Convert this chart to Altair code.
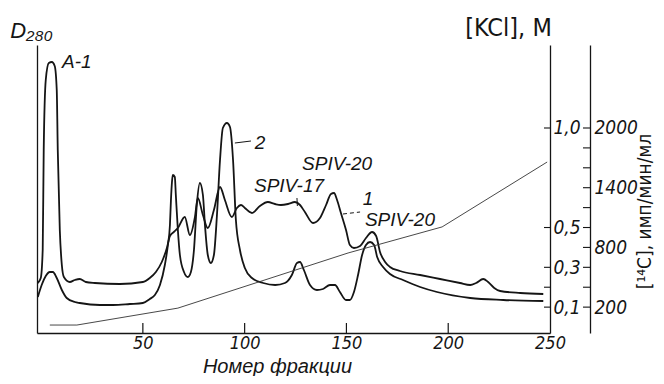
import altair as alt
import pandas as pd

# ---- data (fraction number, D280 in arbitrary units) ----
c1_frac = [-1.6, -0.15, 0.8, 1.3, 2.3, 3.8, 5.3, 6.7, 7.7, 8.2, 9.2, 10.2, 11.2, 14.1, 16.6, 19.0,
           22.0, 26.4, 38.7, 50.0, 53.4, 56.4, 59.3, 61.8, 63.3, 65.2, 67.2, 70.6, 73.1, 75.5, 77.0,
           79.5, 81.9, 84.9, 87.9, 90.3, 93.7, 96.2, 98.2, 100.1, 103.6, 107.5, 111.4, 114.9, 117.8,
           121.3, 124.7, 127.2, 129.6, 133.6, 137.0, 140.0, 142.4, 143.9, 145.4, 147.3, 149.8, 151.7,
           153.7, 156.7, 159.6, 162.6, 164.6, 166.5, 169.0, 171.4, 176.3, 186.2, 196.0, 205.8, 210.8,
           213.7, 217.2, 219.6, 222.6, 225.5, 235.4, 246.7]
c1_D = [0.25, 0.275, 0.415, 0.915, 1.265, 1.35, 1.355, 1.335, 1.215, 0.915, 0.515, 0.34, 0.28, 0.255,
        0.265, 0.27, 0.255, 0.25, 0.245, 0.255, 0.275, 0.305, 0.355, 0.425, 0.485, 0.505, 0.525, 0.58,
        0.49, 0.575, 0.675, 0.59, 0.525, 0.615, 0.73, 0.665, 0.58, 0.625, 0.64, 0.625, 0.6, 0.635,
        0.655, 0.645, 0.64, 0.645, 0.655, 0.64, 0.605, 0.55, 0.575, 0.64, 0.695, 0.7, 0.665, 0.6,
        0.515, 0.44, 0.425, 0.435, 0.475, 0.505, 0.485, 0.405, 0.355, 0.33, 0.31, 0.29, 0.27, 0.25,
        0.24, 0.25, 0.27, 0.255, 0.225, 0.21, 0.2, 0.195]

c2_frac = [-1.6, 0.3, 2.3, 4.3, 5.8, 7.7, 10.2, 12.6, 16.6, 19.0, 28.9, 35.3, 43.6, 50.0, 53.4, 55.9,
           58.4, 60.8, 62.3, 63.3, 63.8, 64.3, 64.7, 65.7, 66.2, 67.2, 68.2, 70.2, 72.1, 73.6, 75.1,
           76.5, 78.0, 79.5, 80.5, 81.9, 83.4, 84.9, 86.4, 87.9, 89.3, 91.3, 92.8, 94.3, 95.7, 97.7,
           100.1, 103.6, 109.1, 115.0, 119.8, 123.2, 125.7, 127.2, 129.1, 132.1, 135.5, 138.5, 141.9,
           144.4, 146.8, 149.8, 151.7, 153.7, 155.7, 157.7, 159.6, 161.6, 163.6, 165.1, 168.0, 171.4,
           177.8, 186.2, 194.5, 210.8, 227.1, 246.7]
c2_D = [0.18, 0.24, 0.285, 0.305, 0.305, 0.275, 0.215, 0.175, 0.155, 0.15, 0.14, 0.14, 0.145, 0.15,
        0.17, 0.19, 0.24, 0.34, 0.44, 0.54, 0.665, 0.755, 0.79, 0.78, 0.69, 0.515, 0.39, 0.305, 0.28,
        0.305, 0.415, 0.64, 0.75, 0.69, 0.54, 0.39, 0.35, 0.39, 0.59, 0.865, 1.025, 1.05, 1.03, 0.865,
        0.565, 0.415, 0.325, 0.275, 0.25, 0.24, 0.25, 0.29, 0.35, 0.355, 0.315, 0.24, 0.215, 0.22,
        0.24, 0.24, 0.205, 0.165, 0.165, 0.205, 0.29, 0.39, 0.44, 0.455, 0.44, 0.38, 0.33, 0.295,
        0.265, 0.23, 0.205, 0.175, 0.165, 0.16]

# KCl gradient (M)
kcl_frac = [4.3, 17.6, 67.2, 150.8, 197.0, 248.6]
kcl_val = [0.01, 0.01, 0.095, 0.372, 0.503, 0.829]

# axis ticks / labels
x_label_values = [50, 100, 150, 200, 250]
x_tick_values = [50, 100, 150, 200]
kcl_label_values = [0.1, 0.3, 0.5, 1.0]
kcl_tick_values = [0.1, 0.2, 0.3, 0.5, 1.0]
c14_label_values = [200, 800, 1400, 2000]
c14_tick_values = [200, 400, 600, 800, 1000, 1200, 1400, 1600, 1800, 2000]

# annotations (fraction, D280, text)
ann_f = [17.6, 107.5, 121.8, 145.4, 160.6, 176.3]
ann_D = [1.355, 0.95, 0.735, 0.845, 0.67, 0.565]
ann_text = ["A-1", "2", "SPIV-17", "SPIV-20", "1", "SPIV-20"]

# leader lines (fraction, D280) -> (fraction, D280)
lead_f = [95.2, 125.7, 148.3]
lead_D = [0.95, 0.675, 0.595]
lead_f2 = [103.1, 125.9, 156.7]
lead_D2 = [0.96, 0.635, 0.605]
lead_dash = ["solid", "solid", "dash"]

# ---------------------------------------------------------------------------
W, H = 513, 288
INK = "#151515"
NUM_FONT = "Liberation Sans Narrow, DejaVu Sans Condensed, Liberation Sans, sans-serif"
TXT_FONT = "Liberation Sans, DejaVu Sans, sans-serif"

x_scale = alt.Scale(domain=[-2, 250], nice=False, zero=False)
d_scale = alt.Scale(domain=[0, 1.44], nice=False, zero=False)
k_scale = alt.Scale(domain=[-0.030, 1.417], nice=False, zero=False)
c_scale = alt.Scale(domain=[-60, 2834], nice=False, zero=False)

x_axis = alt.Axis(values=x_label_values, ticks=False, grid=False, labelFlush=False,
                  labelOverlap=False, labelFont=NUM_FONT, labelFontStyle="italic",
                  labelFontSize=18, labelPadding=1,
                  title="Номер   фракции", titleFont=TXT_FONT, titleFontStyle="italic",
                  titleFontWeight="normal", titleFontSize=20, titleX=240, titleY=39,
                  titleBaseline="alphabetic", titleAlign="center")
d_axis = alt.Axis(orient="left", ticks=False, labels=False, grid=False,
                  title="D₂₈₀", titleAngle=0, titleX=-6, titleY=-8, titleAlign="center",
                  titleBaseline="alphabetic", titleFont=TXT_FONT, titleFontStyle="italic",
                  titleFontWeight="normal", titleFontSize=22)
k_axis = alt.Axis(orient="right", values=kcl_label_values, ticks=False, grid=False,
                  labelExpr="replace(format(datum.value, '.1f'), '.', ',')",
                  labelFont=NUM_FONT, labelFontStyle="italic", labelFontSize=19, labelPadding=3,
                  title="[KCl], M", titleAngle=0, titleX=-42, titleY=-18, titleAlign="center",
                  titleBaseline="middle", titleFont=NUM_FONT, titleFontWeight="normal",
                  titleFontSize=25)
c_axis = alt.Axis(orient="right", offset=40, values=c14_label_values, format="d", ticks=False,
                  grid=False, labelFont=NUM_FONT, labelFontStyle="italic", labelFontSize=19,
                  labelPadding=4,
                  title="[¹⁴C], имп/мин/мл", titleAngle=270, titleX=54, titleY=166,
                  titleAlign="center", titleBaseline="middle", titleFont=NUM_FONT,
                  titleFontWeight="normal", titleFontSize=19)

curves = pd.concat([
    pd.DataFrame({"f": c1_frac, "D": c1_D, "curve": "1"}),
    pd.DataFrame({"f": c2_frac, "D": c2_D, "curve": "2"}),
])
ann = pd.DataFrame({"f": ann_f, "D": ann_D, "text": ann_text})
leads = pd.DataFrame({"f": lead_f, "D": lead_D, "f2": lead_f2, "D2": lead_D2, "dash": lead_dash})
xt = pd.DataFrame({"f": x_tick_values})
kcl = pd.DataFrame({"f": kcl_frac, "kcl": kcl_val})
kt = pd.DataFrame({"kcl": kcl_tick_values})
ct = pd.DataFrame({"c14": c14_tick_values})

X = alt.X("f:Q", scale=x_scale, axis=x_axis)
Y = alt.Y("D:Q", scale=d_scale, axis=d_axis)

line_layer = alt.Chart(curves).mark_line(interpolate="monotone", strokeWidth=1.8, color=INK).encode(
    x=X, y=Y, detail="curve:N")
text_layer = alt.Chart(ann).mark_text(font=TXT_FONT, fontStyle="italic", fontSize=19,
                                      align="center", baseline="middle", color=INK).encode(
    x=X, y=Y, text="text:N")
lead_solid = alt.Chart(leads[leads.dash == "solid"]).mark_rule(strokeWidth=1, color=INK).encode(
    x=X, y=Y, x2="f2:Q", y2="D2:Q")
lead_dashed = alt.Chart(leads[leads.dash == "dash"]).mark_rule(strokeWidth=1, color=INK,
                                                              strokeDash=[4, 3]).encode(
    x=X, y=Y, x2="f2:Q", y2="D2:Q")
xtick_layer = alt.Chart(xt).mark_rule(strokeWidth=1.2, color=INK).encode(
    x=X, y=alt.value(H - 10), y2=alt.value(H))
d_layer = alt.layer(line_layer, text_layer, lead_solid, lead_dashed, xtick_layer)

KY = alt.Y("kcl:Q", scale=k_scale, axis=k_axis)
kcl_line = alt.Chart(kcl).mark_line(strokeWidth=0.9, color="#333333").encode(x=X, y=KY)
kcl_ticks = alt.Chart(kt).mark_rule(strokeWidth=1.1, color=INK).encode(
    y=KY, x=alt.value(W - 6), x2=alt.value(W))
k_layer = alt.layer(kcl_line, kcl_ticks)

c_layer = alt.Chart(ct).mark_rule(strokeWidth=1.1, color=INK).encode(
    y=alt.Y("c14:Q", scale=c_scale, axis=c_axis),
    x=alt.value(W + 40 - 7), x2=alt.value(W + 40))

chart = alt.layer(d_layer, k_layer, c_layer).resolve_scale(y="independent").properties(
    width=W, height=H,
    autosize=alt.AutoSizeParams(type="none"),
    padding={"left": 29, "top": 37, "right": 106, "bottom": 43},
    background="white",
).configure_view(stroke=None).configure_axis(
    domainColor=INK, domainWidth=1.3, labelColor=INK, titleColor=INK)

chart.save("out.html", embed_options={"renderer": "svg", "actions": False})
